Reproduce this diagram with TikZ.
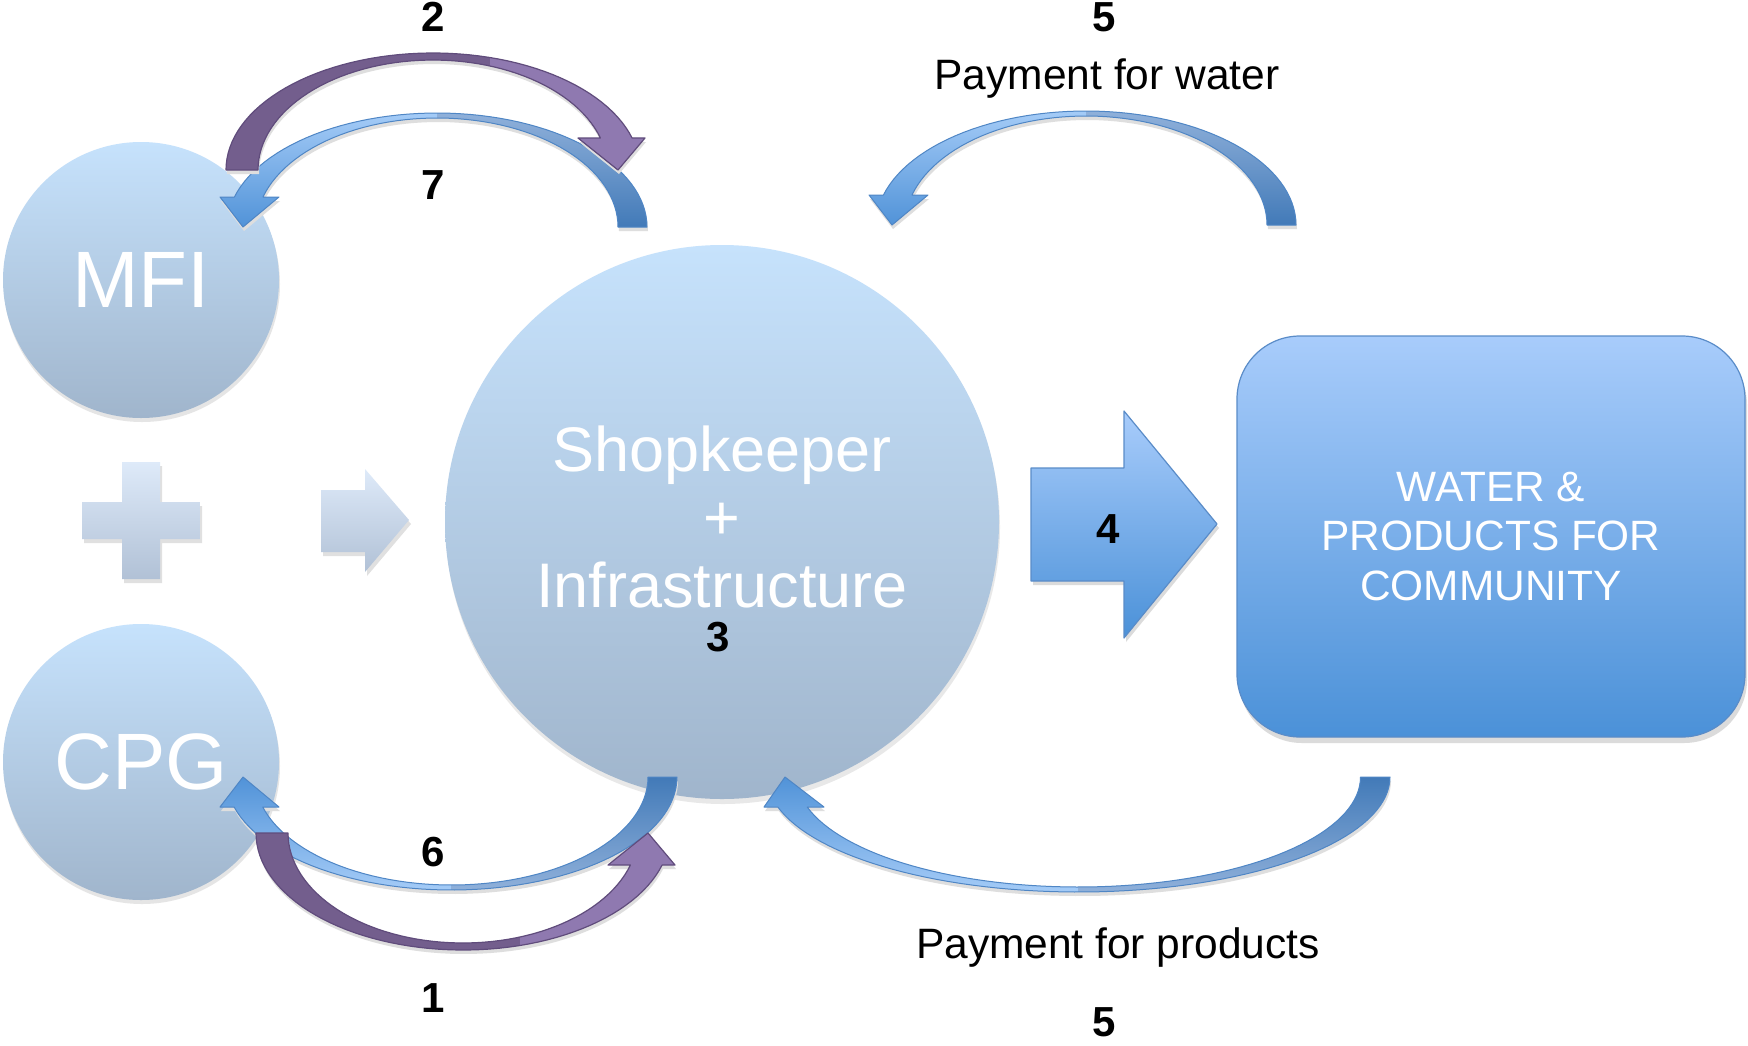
\documentclass[tikz,border=0pt]{standalone}
\usepackage{fontspec}
\setmainfont{Liberation Sans}
\definecolor{circtop}{HTML}{C6E2FC}
\definecolor{circbot}{HTML}{A0B5CC}
\definecolor{boxtop}{HTML}{A8CCFB}
\definecolor{boxbot}{HTML}{4B91D8}
\definecolor{boxedge}{HTML}{5A8CC8}
\definecolor{paletop}{HTML}{DEEAF9}
\definecolor{palebot}{HTML}{B1C1D6}
\definecolor{bh1}{HTML}{A4CBF7}
\definecolor{bh2}{HTML}{5193D8}
\definecolor{bt1}{HTML}{8FB0DA}
\definecolor{bt2}{HTML}{427AB8}
\definecolor{bedge}{HTML}{4F86C5}
\definecolor{pd}{HTML}{735E8D}
\definecolor{pl}{HTML}{8F79B0}
\definecolor{pedge}{HTML}{604C7C}

% curved arrow outlines (page coordinates, y grows downwards)
\newcommand\arrowseven[1]{\path[#1]
  plot[domain=0:164.74,samples=60] ({437+210*cos(\x)},{227-114*sin(\x)})
  -- (220,197) -- (243,227) -- (279,197)
  -- plot[domain=0:164.03,samples=60] ({437+181*cos(164.03-\x)},{227-109*sin(164.03-\x)})
  -- cycle;}
\newcommand\arrowsix[1]{\path[#1]
  plot[domain=0:164.6,samples=60] ({451.5+225.5*cos(\x)},{777+113*sin(\x)})
  -- (220,807) -- (243,777) -- (279,807)
  -- plot[domain=0:163.87,samples=60] ({451.5+196.5*cos(163.87-\x)},{777+108*sin(163.87-\x)})
  -- cycle;}
\newcommand\arrowfivelow[1]{\path[#1]
  plot[domain=0:164.87,samples=70] ({1078.5+311.5*cos(\x)},{777+115*sin(\x)})
  -- (764,807) -- (785,777) -- (824,807)
  -- plot[domain=0:164.17,samples=70] ({1078.5+282*cos(164.17-\x)},{777+110*sin(164.17-\x)})
  -- cycle;}
\newcommand\arrowtwo[1]{\path[#1]
  plot[domain=180:344.1,samples=60] ({433+207*cos(\x)},{170+117*sin(\x)})
  -- (645,138) -- (618,170) -- (578,138)
  -- plot[domain=0:163.09,samples=60] ({433+175*cos(343.09-\x)},{170+110*sin(343.09-\x)})
  -- cycle;}
\newcommand\arrowone[1]{\path[#1]
  plot[domain=0:164.1,samples=60] ({463+207*cos(180-\x)},{833+117*sin(180-\x)})
  -- (675,865) -- (648,833) -- (608,865)
  -- plot[domain=0:163.09,samples=60] ({463+175*cos(16.91+\x)},{833+110*sin(16.91+\x)})
  -- cycle;}

% shadow, two-tone fill split at a given x, then outline
\newcommand\twotone[7]{%
  #1{shadowfill,shift={(1,4)}}
  \begin{scope}\clip (0,#5) rectangle (#2,#6); #1{#3}\end{scope}
  \begin{scope}\clip (#2,#5) rectangle (1748,#6); #1{#4}\end{scope}
  #1{#7}}

\begin{document}
\begin{tikzpicture}[x=1pt,y=-1pt,
  shadowfill/.style={fill=black!13},
  bubble/.style={circle,inner sep=0pt,top color=circtop,bottom color=circbot,text=white},
  pale/.style={top color=paletop,bottom color=palebot},
  blueedge/.style={draw=bedge,line width=1pt,line join=round},
  purpleedge/.style={draw=pedge,line width=1.2pt,line join=round},
  upheadfill/.style={top color=bh1,bottom color=bh2},
  uptailfill/.style={top color=bt1,bottom color=bt2},
  downheadfill/.style={top color=bh2,bottom color=bh1},
  downtailfill/.style={top color=bt2,bottom color=bt1},
  numlabel/.style={inner sep=0pt,font=\fontsize{42}{50}\selectfont\bfseries},
  paylabel/.style={inner sep=0pt,anchor=base,font=\fontsize{42.5}{50}\selectfont}]

\useasboundingbox (0,0) rectangle (1748,1045);
\fill[white] (0,0) rectangle (1748,1045);

% circles with soft shadows
\fill[black!10] (142,284) circle[radius=138];
\fill[black!10] (142,766) circle[radius=138];
\fill[black!9] (723,527) circle[radius=277];
\node[bubble,minimum size=276pt,font=\fontsize{80}{96}\selectfont] (mfi) at (141,280) {MFI};
\node[bubble,minimum size=276pt,font=\fontsize{80}{96}\selectfont] (cpg) at (141,762) {CPG};
\node[bubble,minimum size=554pt] (shop) at (722,522) {};
\node[text=white,align=center,inner sep=0pt,font=\fontsize{63}{68}\selectfont] (shoptext) at (722,517) {Shopkeeper\\+\\Infrastructure};

% community box
\fill[black!14,rounded corners=63pt] (1239,342) rectangle (1747,743);
\node[draw=boxedge,line width=1.2pt,rounded corners=63pt,minimum width=508pt,minimum height=401pt,
  top color=boxtop,bottom color=boxbot,text=white,align=center,inner sep=0pt,
  font=\fontsize{42.4}{49.5}\selectfont] (box) at (1491,536.5) {WATER \&\\PRODUCTS FOR\\COMMUNITY};

% plus sign and small arrow
\fill[black!12] (124,466) -- (162,466) -- (162,506) -- (202,506) -- (202,543) -- (162,543) -- (162,583) -- (124,583) -- (124,543) -- (84,543) -- (84,506) -- (124,506) -- cycle;
\path[pale] (122,462) -- (160,462) -- (160,502) -- (200,502) -- (200,539) -- (160,539) -- (160,579) -- (122,579) -- (122,539) -- (82,539) -- (82,502) -- (122,502) -- cycle;
\fill[black!12] (323,494) -- (367,494) -- (367,473) -- (411,524) -- (367,576) -- (367,556) -- (323,556) -- cycle;
\path[pale] (321,490) -- (365,490) -- (365,469) -- (409,520) -- (365,572) -- (365,552) -- (321,552) -- cycle;

% block arrow towards the community
\fill[black!14] (1033,472) -- (1126,472) -- (1126,415) -- (1219,528) -- (1126,642) -- (1126,585) -- (1033,585) -- cycle;
\path[top color=boxtop,bottom color=boxbot,draw=boxedge,line width=1.2pt,line join=round]
  (1031,468) -- (1124,468) -- (1124,411) -- (1217,524) -- (1124,638) -- (1124,581) -- (1031,581) -- cycle;

% blue curved arrows
\twotone{\arrowseven}{437}{upheadfill}{uptailfill}{80}{260}{blueedge}
\begin{scope}[shift={(649,-2)}]
\twotone{\arrowseven}{437}{upheadfill}{uptailfill}{80}{260}{blueedge}
\end{scope}
\twotone{\arrowsix}{451.5}{downheadfill}{downtailfill}{740}{930}{blueedge}
\twotone{\arrowfivelow}{1078.5}{downheadfill}{downtailfill}{740}{930}{blueedge}

% purple curved arrows
\twotone{\arrowtwo}{490}{fill=pd}{fill=pl}{20}{200}{purpleedge}
\twotone{\arrowone}{520}{fill=pd}{fill=pl}{800}{990}{purpleedge}

% step numbers and captions
\node[numlabel] (n2) at (433,17) {2};
\node[numlabel] (n7) at (433,185) {7};
\node[numlabel] (n6) at (433,852) {6};
\node[numlabel] (n1) at (433,998) {1};
\node[numlabel] (n3) at (718,637) {3};
\node[numlabel] (n4) at (1108,529) {4};
\node[numlabel] (n5a) at (1104,17) {5};
\node[numlabel] (n5b) at (1104,1022) {5};
\node[paylabel] (paywater) at (1107,89) {Payment for water};
\node[paylabel] (payprod) at (1118,958) {Payment for products};
\end{tikzpicture}
\end{document}
